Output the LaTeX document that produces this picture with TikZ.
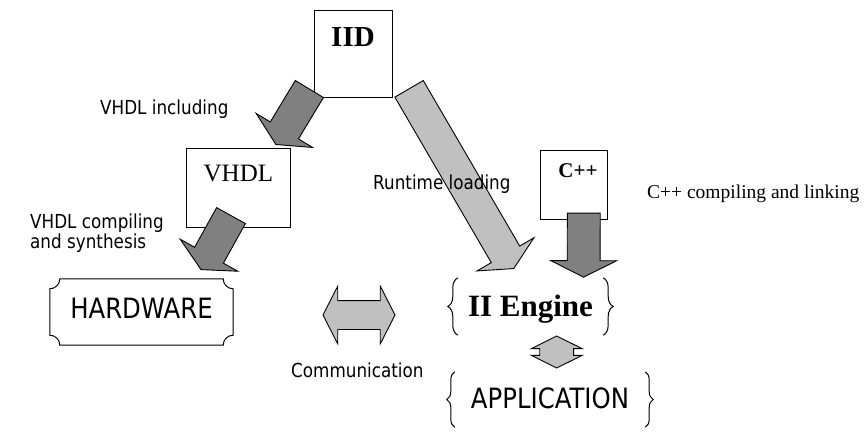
\documentclass[tikz,border=0pt]{standalone}
\usepackage{fontspec}
\setmainfont{Liberation Serif}
\newfontfamily\labelfont[FakeStretch=0.87]{DejaVu Sans}
\usepackage{tikz}
\usetikzlibrary{shapes.arrows,calc,positioning,decorations.pathreplacing}

\definecolor{arrowdark}{HTML}{808080}
\definecolor{arrowlight}{HTML}{C0C0C0}

% block arrow from tail (#3) to tip (#4), style #1, name #2
\newcommand{\blockarrow}[4]{%
  \path let \p1=(#3), \p2=(#4) in
    node[#1, minimum height={veclen(\x2-\x1,\y2-\y1)}, rotate={atan2(\y2-\y1,\x2-\x1)}]
    (#2) at ($(#3)!0.5!(#4)$) {};%
}

\begin{document}
\begin{tikzpicture}[x=1pt, y=-1pt,
  every node/.style={inner sep=0pt},
  box/.style   ={draw, line width=1pt, fill=white},
  lbl/.style   ={font=\labelfont\fontsize{19.3}{20}\selectfont, anchor=base west},
  big/.style   ={font=\labelfont\fontsize{28}{30}\selectfont},
  blk/.style   ={single arrow, draw, line width=0.9pt, inner xsep=0pt, inner ysep=16pt,
                 minimum width=65, single arrow head extend=16.5, single arrow tip angle=127},
  dk/.style    ={blk, fill=arrowdark},
  lt/.style    ={blk, fill=arrowlight},
  dbl/.style   ={double arrow, draw, line width=0.9pt, fill=arrowlight, inner xsep=0pt},
  brc/.style   ={decorate, decoration={brace, amplitude=#1}, line width=1pt},
  plaque/.style={draw, line width=1pt},
]
\useasboundingbox (0,0) rectangle (867,433);

%% boxes (pixel coordinates, y downwards)
\node[box, minimum width=78, minimum height=87] (iid) at (353,54.5) {};
\node[font=\bfseries\fontsize{29}{30}\selectfont, below=17pt of iid.north] (iidtxt) {IID};

\node[box, minimum width=104.7, minimum height=79] (vhdl) at (238.4,187.8) {};
\node[font=\fontsize{25}{28}\selectfont, below=16.7pt of vhdl.north] (vhdltxt) {VHDL};

\node[box, minimum width=66.6, minimum height=69.3] (cpp) at (574,185.3) {};
\node[font=\bfseries\fontsize{21}{24}\selectfont, below=13.3pt of cpp.north, xshift=4pt] (cpptxt) {C++};

%% HARDWARE plaque
\node[big, minimum width=183, minimum height=66, text height=20, text depth=8] (hw) at (141.5,312) {HARDWARE};
\draw[plaque] ([yshift=-10pt]hw.north west) arc[start angle=90, end angle=0, radius=10]
  -- ([xshift=-10pt]hw.north east) arc[start angle=180, end angle=90, radius=10]
  -- ([yshift=10pt]hw.south east) arc[start angle=270, end angle=180, radius=10]
  -- ([xshift=10pt]hw.south west) arc[start angle=0, end angle=-90, radius=10]
  -- cycle;

%% II Engine and APPLICATION in braces
\node[font=\bfseries\fontsize{31}{32}\selectfont, minimum width=145, minimum height=57,
      text height=22, text depth=1.6] (eng) at (530.5,306.5) {II Engine};
\draw[brc=10pt] (eng.south west) -- (eng.north west);
\draw[brc=10pt] (eng.north east) -- (eng.south east);

\node[big, minimum width=190, minimum height=55, text height=20, text depth=2.4] (app) at (550,399.5) {APPLICATION};
\draw[brc=8pt] (app.south west) -- (app.north west);
\draw[brc=8pt] (app.north east) -- (app.south east);

%% block arrows
\coordinate (a1s) at (311.5,85.5);  \coordinate (a1e) at (278,141);
\coordinate (a2s) at (233,212);     \coordinate (a2e) at (203,266);
\coordinate (a3s) at (407,85.3);    \coordinate (a3e) at (511.7,265);
\coordinate (a4s) at (583.8,209);   \coordinate (a4e) at (583.6,273);

\blockarrow{dk}{incl}{a1s}{a1e}
\blockarrow{dk}{synth}{a2s}{a2e}
\blockarrow{lt}{load}{a3s}{a3e}
\blockarrow{dk}{link}{a4s}{a4e}

\node[dbl, inner ysep=14pt, minimum height=72, minimum width=57, double arrow head extend=14.5,
      double arrow tip angle=126] (comm) at (359,315) {};
\node[dbl, inner ysep=16.5pt, rotate=90, minimum height=32, minimum width=50, double arrow head extend=8.5,
      double arrow tip angle=127] (engapp) at (556.7,352) {};

%% labels
\node[lbl] (incllbl) at (100,114) {VHDL including};
\node[lbl, anchor=north west, align=left] (synlbl) at (30,214) {VHDL compiling\\and synthesis};
\node[lbl] (loadlbl) at (373,189) {Runtime loading};
\node[lbl, font=\fontsize{19.5}{20}\selectfont] (linklbl) at (647,198) {C++ compiling and linking};
\node[lbl] (commlbl) at (291,377) {Communication};

\end{tikzpicture}
\end{document}
